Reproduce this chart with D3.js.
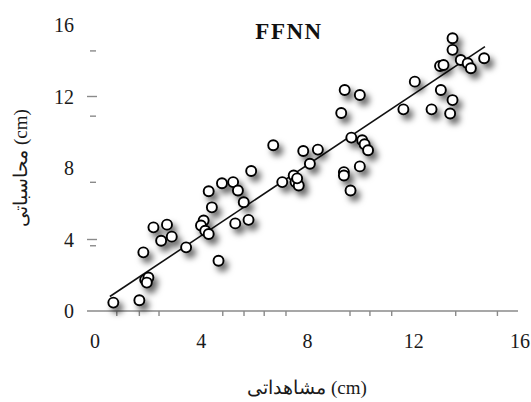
<!DOCTYPE html>
<html>
<head>
<meta charset="utf-8">
<script src="https://cdn.jsdelivr.net/npm/d3@7"></script>
<style>
  body { margin: 0; background: #fff; }
  text { font-family: "Liberation Serif", "DejaVu Serif", serif; }
</style>
</head>
<body>
<div id="chart"></div>
<script>
    var width = 531;
    var height = 402;

    // observed vs computed values (cm)
    var observed = [0.69,1.67,1.89,2.01,1.95,1.82,2.20,2.71,2.49,2.89,3.43,4.09,3.99,4.15,4.28,4.40,4.28,4.65,4.78,5.20,
      5.38,5.60,5.28,5.78,5.88,6.71,7.05,7.48,7.55,7.67,7.61,7.84,8.39,8.09,9.40,9.97,9.27,9.65,10.06,10.15,
      10.28,9.97,9.37,9.37,9.62,11.61,12.04,12.67,13.02,13.46,13.37,12.99,13.12,13.46,13.46,13.77,14.03,14.15,14.65];
    var computed = [0.47,0.60,1.74,1.87,1.59,3.28,4.68,4.83,3.93,4.16,3.56,5.06,4.78,4.49,4.31,5.80,6.70,2.81,7.15,7.21,
      6.74,6.08,4.90,5.10,7.83,9.27,7.21,7.58,7.21,7.02,7.42,8.95,9.03,8.24,12.36,12.08,11.08,9.70,9.55,9.33,
      8.99,8.09,7.77,7.58,6.74,11.28,12.83,11.28,12.36,11.80,11.05,13.71,13.76,15.26,14.61,14.04,13.86,13.58,14.14];

    var trendX = [0.56, 14.68];
    var trendY = [0.81, 14.79];

    var tickLabels = [0, 4, 8, 12, 16];
    var xTickMarks = [0.82,1.67,2.41,4.81,5.61,6.37,7.19,9.6,10.35,11.17,13.58,15.15];
    var yTickMarksLong = [4, 12];
    var yTickMarksShort = [3.65, 7.2, 10.9, 14.55];

    var svg = d3.select("#chart")
          .append("svg")
          .attr("width", width)
          .attr("height", height);

    var defs = svg.append("defs");
    var shadow = defs.append("filter")
      .attr("id", "shadow")
      .attr("x", "-50%").attr("y", "-50%")
      .attr("width", "220%").attr("height", "220%");
    shadow.append("feDropShadow")
      .attr("dx", 4).attr("dy", 5)
      .attr("stdDeviation", 3)
      .attr("flood-color", "#000")
      .attr("flood-opacity", 0.6);

    var x = d3.scaleLinear().domain([0, 16]).range([95, 520]);
    var y = d3.scaleLinear().domain([0, 16]).range([311, 25]);

    // x axis
    svg.append("line")
      .attr("x1", 87).attr("x2", 518)
      .attr("y1", y(0)).attr("y2", y(0))
      .attr("stroke", "#8a8a8a")
      .attr("stroke-width", 1.6);

    svg.selectAll(".xtick")
      .data(xTickMarks)
      .enter()
      .append("line")
      .attr("class", "xtick")
      .attr("x1", function(d){ return x(d); })
      .attr("x2", function(d){ return x(d); })
      .attr("y1", y(0)).attr("y2", y(0) + 5)
      .attr("stroke", "#8a8a8a")
      .attr("stroke-width", 1.4);

    svg.selectAll(".xlabel")
      .data(tickLabels)
      .enter()
      .append("text")
      .attr("class", "xlabel")
      .attr("x", function(d){ return x(d); })
      .attr("y", 348)
      .attr("text-anchor", "middle")
      .attr("font-size", 20)
      .attr("fill", "#1a1a1a")
      .text(function(d){ return d; });

    // y axis (no line, only scattered ticks)
    svg.selectAll(".ytickl")
      .data(yTickMarksLong)
      .enter()
      .append("line")
      .attr("class", "ytickl")
      .attr("x1", 87).attr("x2", 97)
      .attr("y1", function(d){ return y(d); })
      .attr("y2", function(d){ return y(d); })
      .attr("stroke", "#8a8a8a")
      .attr("stroke-width", 1.4);

    svg.selectAll(".yticks")
      .data(yTickMarksShort)
      .enter()
      .append("line")
      .attr("class", "yticks")
      .attr("x1", 90).attr("x2", 96)
      .attr("y1", function(d){ return y(d); })
      .attr("y2", function(d){ return y(d); })
      .attr("stroke", "#8a8a8a")
      .attr("stroke-width", 1.4);

    svg.selectAll(".ylabel")
      .data(tickLabels)
      .enter()
      .append("text")
      .attr("class", "ylabel")
      .attr("x", 74)
      .attr("y", function(d){ return y(d) + 7; })
      .attr("text-anchor", "end")
      .attr("font-size", 20)
      .attr("fill", "#1a1a1a")
      .text(function(d){ return d; });

    // trend line
    svg.append("line")
      .attr("x1", x(trendX[0])).attr("y1", y(trendY[0]))
      .attr("x2", x(trendX[1])).attr("y2", y(trendY[1]))
      .attr("stroke", "#111")
      .attr("stroke-width", 1.6);

    // points
    svg.append("g")
      .attr("filter", "url(#shadow)")
      .selectAll("circle")
      .data(observed)
      .enter()
      .append("circle")
      .attr("cx", function(d){ return x(d); })
      .attr("cy", function(d, i){ return y(computed[i]); })
      .attr("r", 5)
      .attr("fill", "#fff")
      .attr("stroke", "#000")
      .attr("stroke-width", 1.9);

    // title and axis titles
    svg.append("text")
      .attr("x", 289)
      .attr("y", 39)
      .attr("text-anchor", "middle")
      .attr("font-size", 23)
      .attr("font-weight", "bold")
      .attr("letter-spacing", 1.5)
      .attr("fill", "#111")
      .text("FFNN");

    svg.append("text")
      .attr("x", 307)
      .attr("y", 394)
      .attr("text-anchor", "middle")
      .attr("font-size", 19)
      .attr("fill", "#1a1a1a")
      .text("مشاهداتی (cm)");

    svg.append("text")
      .attr("transform", "translate(27,168) rotate(-90)")
      .attr("text-anchor", "middle")
      .attr("font-size", 19)
      .attr("fill", "#1a1a1a")
      .text("محاسباتی (cm)");
</script>
</body>
</html>
